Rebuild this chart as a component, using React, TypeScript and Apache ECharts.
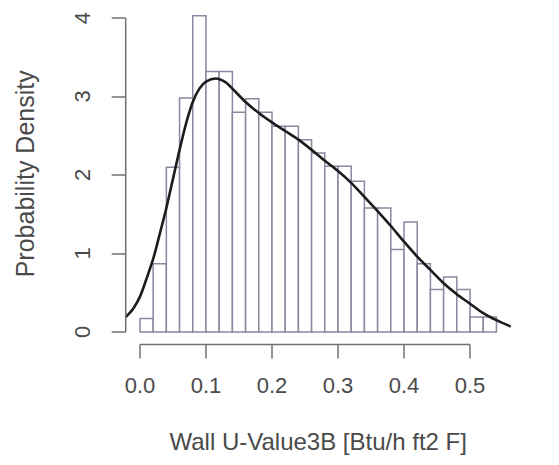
import React, { useEffect, useRef } from "react";
import * as echarts from "echarts";

const W = 559;
const H = 465;

// Histogram: bin starts at 0, width 0.02
const binStart = 0;
const binWidth = 0.02;
const densities = [
  0.17, 0.87, 2.1, 2.98, 4.03, 3.32, 3.32, 2.8, 2.97, 2.8, 2.62, 2.62, 2.45,
  2.28, 2.11, 2.11, 1.92, 1.58, 1.58, 1.05, 1.4, 0.87, 0.54, 0.7, 0.54, 0.19,
  0.19,
];

// Density curve
const curveX = [
  -0.0216, -0.01, 0.0, 0.01, 0.02, 0.03, 0.04, 0.05, 0.06, 0.07, 0.08, 0.09,
  0.1, 0.115, 0.13, 0.14, 0.16, 0.18, 0.2, 0.22, 0.24, 0.26, 0.28, 0.3, 0.32,
  0.34, 0.36, 0.38, 0.4, 0.42, 0.44, 0.46, 0.48, 0.5, 0.52, 0.54, 0.5616,
];
const curveY = [
  0.19, 0.3, 0.45, 0.68, 0.93, 1.25, 1.58, 1.95, 2.32, 2.66, 2.93, 3.1, 3.19,
  3.23, 3.18, 3.1, 2.93, 2.79, 2.67, 2.56, 2.45, 2.32, 2.18, 2.05, 1.9, 1.72,
  1.54, 1.35, 1.15, 0.96, 0.79, 0.62, 0.48, 0.36, 0.24, 0.15, 0.07,
];

const xTicks = [0, 0.1, 0.2, 0.3, 0.4, 0.5];
const yTicks = [0, 1, 2, 3, 4];
const xTitle = "Wall U-Value3B [Btu/h ft2 F]";
const yTitle = "Probability Density";

export default function App() {
  const ref = useRef<HTMLDivElement>(null);
  useEffect(() => {
    if (!ref.current) return;
    const chart = echarts.init(ref.current, undefined, { renderer: "svg" });

    const XMIN = -0.0216, XMAX = 0.5616;
    const YMIN = -0.1612, YMAX = 4.1912;
    const L = 125.7, R = 510.7, T = 3, B = 344.6;

    const bins = densities.map((d, i) => [
      binStart + i * binWidth,
      binStart + (i + 1) * binWidth,
      d,
    ]);

    const font = "Liberation Sans, Arial, Helvetica, sans-serif";
    const textColor = "#4a4a4a";
    const axisColor = "#707070";

    chart.setOption({
      animation: false,
      backgroundColor: "#fff",
      grid: [{ left: L, right: W - R, top: T, bottom: H - B }],
      xAxis: {
        type: "value", min: XMIN, max: XMAX,
        axisLine: { show: false, onZero: false },
        axisTick: {
          show: true, inside: false, length: 14, customValues: xTicks,
          lineStyle: { color: axisColor, width: 1.5 },
        },
        axisLabel: {
          color: textColor, fontSize: 22, fontFamily: font, margin: 30,
          customValues: xTicks,
          formatter: (v: number) => v.toFixed(1),
        },
        splitLine: { show: false },
        name: xTitle, nameLocation: "middle", nameGap: 85,
        nameTextStyle: { color: textColor, fontSize: 24, fontFamily: font },
      },
      yAxis: {
        type: "value", min: YMIN, max: YMAX,
        axisLine: { show: false, onZero: false },
        axisTick: {
          show: true, inside: false, length: 14, customValues: yTicks,
          lineStyle: { color: axisColor, width: 1.5 },
        },
        axisLabel: {
          color: textColor, fontSize: 22, fontFamily: font, margin: 32,
          rotate: 90, customValues: yTicks, align: "center", verticalAlign: "bottom",
        },
        splitLine: { show: false },
        name: yTitle, nameLocation: "middle", nameGap: 88,
        nameTextStyle: { color: textColor, fontSize: 25, fontFamily: font },
      },
      series: [
        {
          type: "custom",
          data: bins,
          renderItem: (params: any, api: any) => {
            const p0 = api.coord([api.value(0), 0]);
            const p1 = api.coord([api.value(1), api.value(2)]);
            return {
              type: "rect",
              shape: { x: p0[0], y: p1[1], width: p1[0] - p0[0], height: p0[1] - p1[1] },
              style: { fill: "#fff", stroke: "#868aa0", lineWidth: 1.5 },
            };
          },
          z: 1,
        },
        {
          type: "line",
          data: curveX.map((x, i) => [x, curveY[i]]),
          smooth: 0.3,
          showSymbol: false,
          symbol: "none",
          lineStyle: { color: "#1c1c1c", width: 2.6 },
          z: 3,
        },
        {
          // R-style axis lines spanning first to last tick
          type: "custom",
          clip: false,
          data: [
            [xTicks[0], YMIN, xTicks[xTicks.length - 1], YMIN],
            [XMIN, yTicks[0], XMIN, yTicks[yTicks.length - 1]],
          ],
          renderItem: (params: any, api: any) => {
            const a = api.coord([api.value(0), api.value(1)]);
            const b = api.coord([api.value(2), api.value(3)]);
            return {
              type: "line",
              shape: { x1: a[0], y1: a[1], x2: b[0], y2: b[1] },
              style: { stroke: axisColor, lineWidth: 1.5 },
            };
          },
          z: 4,
        },
      ],
    });
    return () => chart.dispose();
  }, []);
  return (
    <div
      ref={ref}
      style={{ position: "absolute", left: 0, top: 0, width: W, height: H }}
    />
  );
}
